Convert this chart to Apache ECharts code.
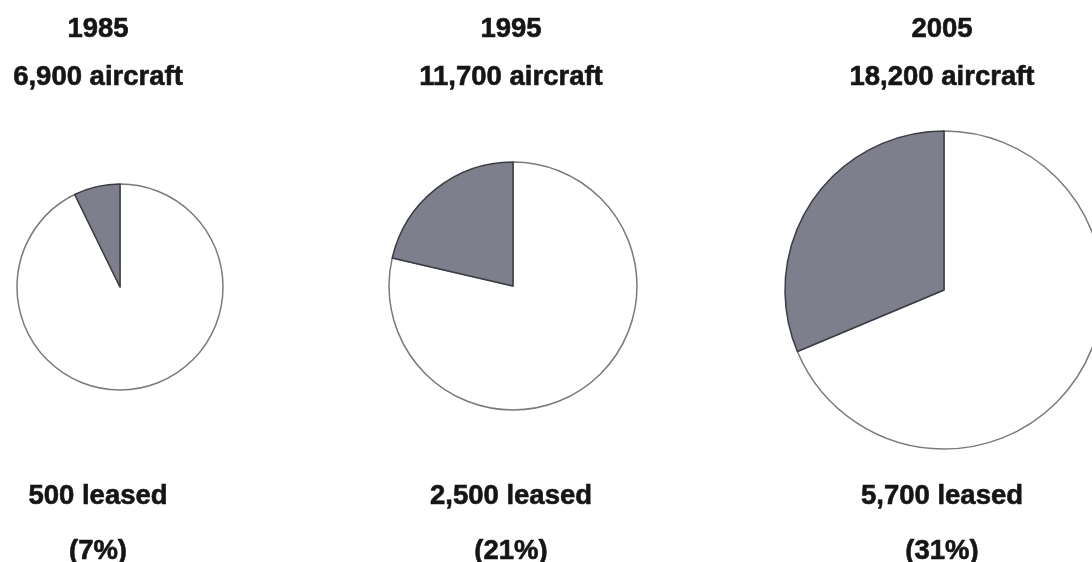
<!DOCTYPE html>
<html>
<head>
<meta charset="utf-8">
<script src="https://cdn.jsdelivr.net/npm/echarts@6/dist/echarts.min.js"></script>
<style>
  html, body { margin: 0; padding: 0; background: #fff; }
  #chart { width: 1092px; height: 562px; }
</style>
</head>
<body>
<div id="chart"></div>
<script>
// data
const years = ['1985', '1995', '2005']
const totals = [6900, 11700, 18200]
const leased = [500, 2500, 5700]
const percents = ['7%', '21%', '31%']

// layout of each pie (center x, center y, radius)
const centers = [[120, 287], [513, 286], [944, 290]]
const radii = [103, 124, 159]
const textX = [98, 511, 942]

const fmt = n => n.toLocaleString('en-US')
const font = { fontFamily: 'Liberation Sans, Arial, sans-serif', fontWeight: 'bold', fontSize: 27.5, fill: '#151515', stroke: '#151515', lineWidth: 0.6 }

const chart = echarts.init(document.getElementById('chart'))

let series = []
let texts = []
years.forEach((y, i) => {
  series.push({
    type: 'pie',
    center: centers[i],
    radius: [0, radii[i]],
    startAngle: 90,
    clockwise: true,
    silent: true,
    label: { show: false },
    labelLine: { show: false },
    data: [
      { value: totals[i] - leased[i], name: 'owned', itemStyle: { color: '#ffffff', borderColor: '#7a7a7a', borderWidth: 1.5 } },
      { value: leased[i], name: 'leased', itemStyle: { color: '#7e7f8c', borderColor: '#3c3c44', borderWidth: 1.5 } }
    ]
  })
  const lines = [
    [y, 29],
    [fmt(totals[i]) + ' aircraft', 77],
    [fmt(leased[i]) + ' leased', 496],
    ['(' + percents[i] + ')', 551]
  ]
  lines.forEach(l => {
    texts.push({
      type: 'text',
      x: textX[i],
      y: l[1],
      style: Object.assign({ text: l[0], textAlign: 'center', textVerticalAlign: 'middle' }, font)
    })
  })
})

chart.setOption({
  backgroundColor: '#fff',
  animation: false,
  series: series,
  graphic: texts
})
</script>
</body>
</html>
